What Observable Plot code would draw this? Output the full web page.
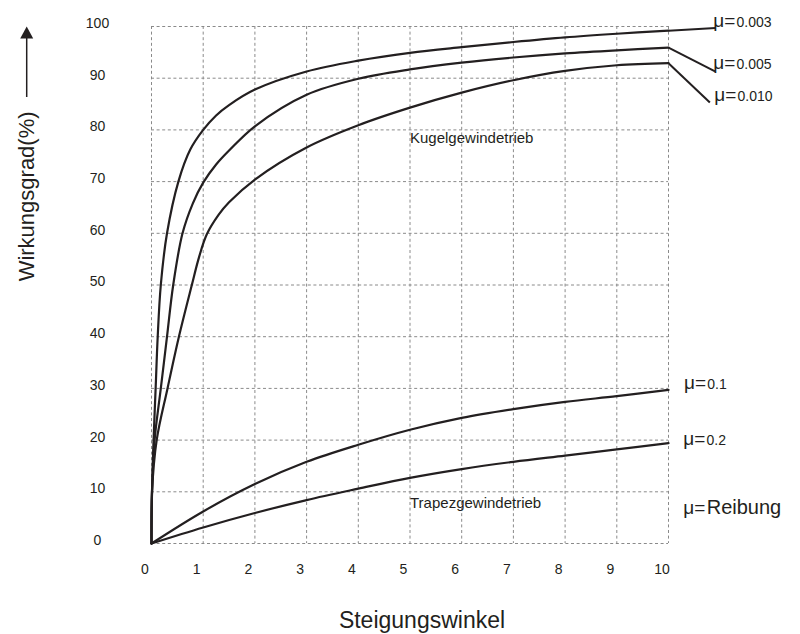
<!DOCTYPE html>
<html>
<head>
<meta charset="utf-8">
<script src="https://cdn.jsdelivr.net/npm/d3@7"></script>
<script src="https://cdn.jsdelivr.net/npm/@observablehq/plot@0.6"></script>
<style>
  html, body { margin: 0; padding: 0; background: #fff; }
  svg { display: block; }
</style>
</head>
<body>
<script>
// ---- data ----
const xTicks = [0, 1, 2, 3, 4, 5, 6, 7, 8, 9, 10];
const yTicks = [0, 10, 20, 30, 40, 50, 60, 70, 80, 90, 100];

// Kugelgewindetrieb (ball screw) curves
const muKugel = ["0.003", "0.005", "0.010"];
const xMu003 = [0, 0.01, 0.04, 0.08, 0.12, 0.18, 0.30, 0.52, 0.75, 1, 1.25, 1.5, 2, 3, 4, 5, 6, 7, 8, 9, 10];
const yMu003 = [0, 10, 20, 30, 40, 50, 60, 70, 76.2, 80, 82.8, 84.8, 87.8, 91.3, 93.4, 94.9, 96.0, 97.0, 97.9, 98.6, 99.2];
const xMu005 = [0, 0.01, 0.06, 0.18, 0.30, 0.42, 0.60, 0.8, 1, 1.25, 1.5, 2, 3, 4, 5, 6, 7, 8, 9, 10];
const yMu005 = [0, 10, 20, 30, 40, 50, 60, 65.8, 69.8, 73.3, 76.0, 80.7, 86.8, 89.9, 91.7, 93.0, 94.0, 94.8, 95.4, 95.9];
const xMu010 = [0, 0.01, 0.10, 0.31, 0.53, 0.78, 0.92, 1.07, 1.3, 1.5, 2, 3, 4, 5, 6, 7, 8, 9, 10];
const yMu010 = [0, 10, 20, 30, 40, 50, 55.4, 59.8, 63.6, 66.0, 70.4, 76.6, 80.9, 84.3, 87.2, 89.6, 91.4, 92.5, 92.9];

// Trapezgewindetrieb (trapezoidal screw) curves
const muTrapez = ["0.1", "0.2"];
const xTrapez = [0, 1, 2, 3, 4, 5, 6, 7, 8, 9, 10];
const yMu01 = [0, 6.2, 11.5, 15.8, 19.1, 22.0, 24.3, 26.0, 27.4, 28.5, 29.7];
const yMu02 = [0, 3.1, 5.9, 8.4, 10.6, 12.7, 14.4, 15.8, 17.0, 18.2, 19.4];

const muLabels = ["0.003", "0.005", "0.010", "0.1", "0.2", "Reibung"];
const xTitle = "Steigungswinkel";
const yTitle = "Wirkungsgrad(%)";
const kugelText = "Kugelgewindetrieb";
const trapezText = "Trapezgewindetrieb";

// ---- build tables ----
const rows = [];
[[xMu003, yMu003, muKugel[0]], [xMu005, yMu005, muKugel[1]], [xMu010, yMu010, muKugel[2]]]
  .forEach(([xs, ys, m]) => xs.forEach((x, i) => rows.push({x, y: ys[i], mu: m})));
[[yMu01, muTrapez[0]], [yMu02, muTrapez[1]]]
  .forEach(([ys, m]) => xTrapez.forEach((x, i) => rows.push({x, y: ys[i], mu: m})));

const lastY = [yMu003, yMu005, yMu010].map(a => a[a.length - 1]);

// annotation layout (label anchors, in chart units)
const labelAnchors = [[10.866, 99.9], [10.866, 91.8], [10.885, 85.5], [10.30, 29.9], [10.285, 19.0], [10.285, 5.66]];
const connectorEnds = [[10.91, 99.7], [10.90, 91.3], [10.80, 85.3]];
const labelRows = muLabels.map((t, i) => ({t, x: labelAnchors[i][0], y: labelAnchors[i][1], big: t === "Reibung"}));
const connectors = lastY.map((v, i) => ({x1: 10, y1: v, x2: connectorEnds[i][0], y2: connectorEnds[i][1]}));

const ink = "#231f20";
const font = "Liberation Sans, Arial, Helvetica, sans-serif";
const gridStyle = {stroke: "#8a8a8a", strokeOpacity: 1, strokeWidth: 1, strokeDasharray: "3,2.6"};

const svg = Plot.plot({
  width: 800,
  height: 634,
  marginLeft: 151,
  marginRight: 132,
  marginTop: 26,
  marginBottom: 91,
  x: {domain: [0, 10], axis: null},
  y: {domain: [0, 100], axis: null},
  style: {fontFamily: font, background: "#fff", color: ink},
  marks: [
    Plot.gridX(xTicks, gridStyle),
    Plot.gridY(yTicks, gridStyle),
    Plot.line(rows, {x: "x", y: "y", z: "mu", curve: d3.curveCatmullRom.alpha(0.5), stroke: ink, strokeWidth: 2.2}),
    Plot.link(connectors, {x1: "x1", y1: "y1", x2: "x2", y2: "y2", stroke: ink, strokeWidth: 2}),
    // tick labels
    Plot.text(xTicks, {x: d => d, y: 0, text: d => String(d), dy: 26, dx: -6.5, fontSize: 14, fill: ink}),
    Plot.text(yTicks, {x: 0, y: d => d, text: d => String(d), dx: -54, dy: -3, textAnchor: "middle", fontSize: 14, fill: ink}),
    // inner labels
    Plot.text([kugelText], {x: 5, y: 77.4, text: d => d, textAnchor: "start", lineAnchor: "bottom", fontSize: 15, fill: ink, ariaLabel: "inner1"}),
    Plot.text([trapezText], {x: 5, y: 6.8, text: d => d, textAnchor: "start", lineAnchor: "bottom", fontSize: 15, fill: ink}),
    // μ labels
    Plot.text(labelRows, {x: "x", y: "y", text: () => "μ=", textAnchor: "start", lineAnchor: "bottom", fontSize: 19, fill: ink}),
    Plot.text(labelRows.filter(d => !d.big), {x: "x", y: "y", text: "t", dx: 23.3, textAnchor: "start", lineAnchor: "bottom", fontSize: 14, fill: ink, ariaLabel: "munums"}),
    Plot.text(labelRows.filter(d => d.big), {x: "x", y: "y", text: "t", dx: 23.5, textAnchor: "start", lineAnchor: "bottom", fontSize: 20, fill: ink}),
    // axis titles
    Plot.text([xTitle], {frameAnchor: "bottom", text: d => d, dx: 12, dy: 84, lineAnchor: "bottom", fontSize: 23, fill: ink, ariaLabel: "xtitle"}),
    Plot.text([yTitle], {frameAnchor: "left", text: d => d, dx: -125, dy: -88.6, rotate: -90, textAnchor: "middle", lineAnchor: "middle", fontSize: 22, fill: ink, ariaLabel: "ytitle"})
  ]
});

const setLS = (label, v) => { const g = svg.querySelector(`g[aria-label="${label}"]`); if (g) g.style.letterSpacing = v; };
setLS("munums", "1.3px");
setLS("xtitle", "1.8px");
setLS("ytitle", "0.8px");
setLS("inner1", "0.3px");

// arrow next to the y title
const sel = d3.select(svg);
sel.append("line").attr("x1", 26.7).attr("x2", 26.7).attr("y1", 97).attr("y2", 37)
  .attr("stroke", ink).attr("stroke-width", 1.5);
sel.append("path").attr("d", "M26.7,26.5 L20.2,38.5 L33.2,38.5 Z").attr("fill", ink);

document.body.appendChild(svg);
</script>
</body>
</html>
